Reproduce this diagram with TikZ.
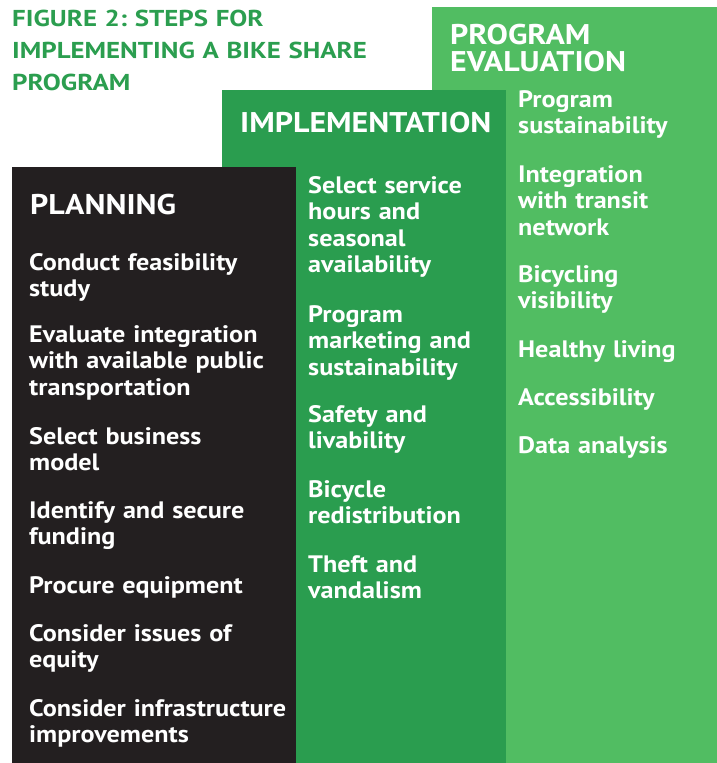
\documentclass[tikz,border=0pt]{standalone}
\usepackage{fontspec}
\setmainfont{PT Sans}
\newfontfamily\titlefont[FakeStretch=1.17]{PT Sans}
\newfontfamily\headfont[FakeStretch=1.12]{PT Sans}
\newfontfamily\itemfont[FakeStretch=1.10]{PT Sans}
\definecolor{lightg}{HTML}{51BD62}
\definecolor{midg}{HTML}{2A9D4F}
\definecolor{darkb}{HTML}{231F20}
\definecolor{titleg}{HTML}{2B9E4F}
\frenchspacing
\begin{document}
\begin{tikzpicture}[x=1pt,y=-1pt,
  titletext/.style={anchor=base west, inner sep=0pt, text=titleg, align=left, text width=420pt,
    font=\titlefont\fontsize{23}{32.2}\selectfont\bfseries},
  headtext/.style={anchor=base west, inner sep=0pt, text=white, align=left, text width=280pt,
    font=\headfont\fontsize{28.5}{27}\selectfont\bfseries},
  itemtext/.style={anchor=base west, inner sep=0pt, text=white, align=left, text width=280pt,
    font=\itemfont\fontsize{23.8}{26.5}\selectfont\bfseries}]
\useasboundingbox (0,0) rectangle (717,763);
\fill[white] (0,0) rectangle (717,763);
% panels
\fill[lightg] (432,7) rectangle (717,763);
\fill[midg] (222,90) rectangle (506,763);
\fill[darkb] (12,167) rectangle (296,763);
% title
\node[titletext] (title) at (12,26.5) {FIGURE 2: STEPS FOR\\IMPLEMENTING A BIKE SHARE\\PROGRAM};
% headers
\node[headtext] (hEval) at (450,44) {PROGRAM\\EVALUATION};
\node[headtext] (hImpl) at (240,132) {IMPLEMENTATION};
\node[headtext] (hPlan) at (30,214) {PLANNING};
% planning items
\node[itemtext] (p1) at (29,270) {Conduct feasibility\\study};
\node[itemtext] (p2) at (29,342) {Evaluate integration\\with available public\\transportation};
\node[itemtext] (p3) at (29,444) {Select business\\model};
\node[itemtext] (p4) at (29,518) {Identify and secure\\funding};
\node[itemtext] (p5) at (29,593) {Procure equipment};
\node[itemtext] (p6) at (29,641) {Consider issues of\\equity};
\node[itemtext] (p7) at (29,716) {Consider infrastructure\\improvements};
% implementation items
\node[itemtext] (i1) at (308,193) {Select service\\hours and\\seasonal\\availability};
\node[itemtext] (i2) at (308,322) {Program\\marketing and\\sustainability};
\node[itemtext] (i3) at (308,422) {Safety and\\livability};
\node[itemtext] (i4) at (308,497) {Bicycle\\redistribution};
\node[itemtext] (i5) at (308,572) {Theft and\\vandalism};
% evaluation items
\node[itemtext] (e1) at (518,107) {Program\\sustainability};
\node[itemtext] (e2) at (518,182) {Integration\\with transit\\network};
\node[itemtext] (e3) at (518,282) {Bicycling\\visibility};
\node[itemtext] (e4) at (518,357) {Healthy living};
\node[itemtext] (e5) at (518,405) {Accessibility};
\node[itemtext] (e6) at (518,453) {Data analysis};
\end{tikzpicture}
\end{document}
